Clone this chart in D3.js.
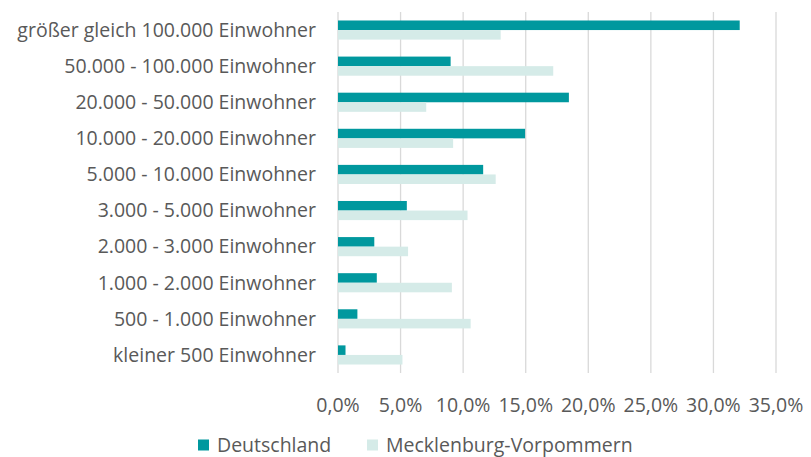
<!DOCTYPE html>
<html>
<head>
<meta charset="utf-8">
<script src="https://cdn.jsdelivr.net/npm/d3@7"></script>
<style>
  body { margin: 0; background: #fff; }
  text { font-family: "Open Sans", "Liberation Sans", sans-serif; fill: #595959; }
</style>
</head>
<body>
<div id="chart"></div>
<script>
// categories top to bottom
var categories = [
  "größer gleich 100.000 Einwohner",
  "50.000 - 100.000 Einwohner",
  "20.000 - 50.000 Einwohner",
  "10.000 - 20.000 Einwohner",
  "5.000 - 10.000 Einwohner",
  "3.000 - 5.000 Einwohner",
  "2.000 - 3.000 Einwohner",
  "1.000 - 2.000 Einwohner",
  "500 - 1.000 Einwohner",
  "kleiner 500 Einwohner"
];
var seriesNames = ["Deutschland", "Mecklenburg-Vorpommern"];
var deutschland = [32.1, 9.0, 18.45, 14.95, 11.6, 5.5, 2.9, 3.1, 1.55, 0.6];
var mv = [13.0, 17.2, 7.05, 9.2, 12.6, 10.35, 5.6, 9.1, 10.6, 5.15];
var xTicks = [0, 5, 10, 15, 20, 25, 30, 35];

var colors = ["#00989e", "#d5ebe8"];

var width = 811, height = 457;
var margin = { top: 12, left: 338, right: 35, bottom: 84 };
var fontSize = "19.5px";

var svg = d3.select("#chart").append("svg")
  .attr("width", width)
  .attr("height", height);

var x = d3.scaleLinear()
  .domain([0, 35])
  .range([margin.left, width - margin.right]);

var y = d3.scaleBand()
  .domain(categories)
  .range([margin.top, height - margin.bottom])
  .paddingInner(0.47)
  .paddingOuter(0.235);

var ySub = d3.scaleBand()
  .domain(seriesNames)
  .range([0, y.bandwidth()]);

// gridlines
svg.append("g")
  .selectAll("line")
  .data(xTicks)
  .join("line")
  .attr("x1", d => x(d)).attr("x2", d => x(d))
  .attr("y1", margin.top).attr("y2", height - margin.bottom)
  .attr("stroke", "#d9d9d9")
  .attr("stroke-width", 1.3);

// bars
var rows = categories.map((c, i) => ({ cat: c, vals: [deutschland[i], mv[i]] }));

var groups = svg.append("g")
  .selectAll("g")
  .data(rows)
  .join("g")
  .attr("transform", d => "translate(0," + y(d.cat) + ")");

groups.selectAll("rect")
  .data(d => d.vals.map((v, j) => ({ name: seriesNames[j], v: v, j: j })))
  .join("rect")
  .attr("x", x(0))
  .attr("y", d => ySub(d.name))
  .attr("width", d => x(d.v) - x(0))
  .attr("height", ySub.bandwidth())
  .attr("fill", d => colors[d.j]);

// category labels
svg.append("g")
  .selectAll("text")
  .data(categories)
  .join("text")
  .attr("x", 316)
  .attr("y", d => y(d) + y.bandwidth() / 2)
  .attr("dy", "0.35em")
  .attr("text-anchor", "end")
  .style("font-size", fontSize)
  .text(d => d);

// x tick labels
svg.append("g")
  .selectAll("text")
  .data(xTicks)
  .join("text")
  .attr("x", d => x(d))
  .attr("y", 405)
  .attr("dy", "0.35em")
  .attr("text-anchor", "middle")
  .style("font-size", fontSize)
  .text(d => d3.format(".1f")(d).replace(".", ",") + "%");

// legend
var legendX = [198, 367];
var legend = svg.append("g")
  .selectAll("g")
  .data(seriesNames)
  .join("g")
  .attr("transform", (d, i) => "translate(" + legendX[i] + ",445)");

legend.append("rect")
  .attr("x", 0).attr("y", -5.5)
  .attr("width", 11).attr("height", 11)
  .attr("fill", (d, i) => colors[i]);

legend.append("text")
  .attr("x", 19)
  .attr("dy", "0.35em")
  .style("font-size", fontSize)
  .text(d => d);
</script>
</body>
</html>
